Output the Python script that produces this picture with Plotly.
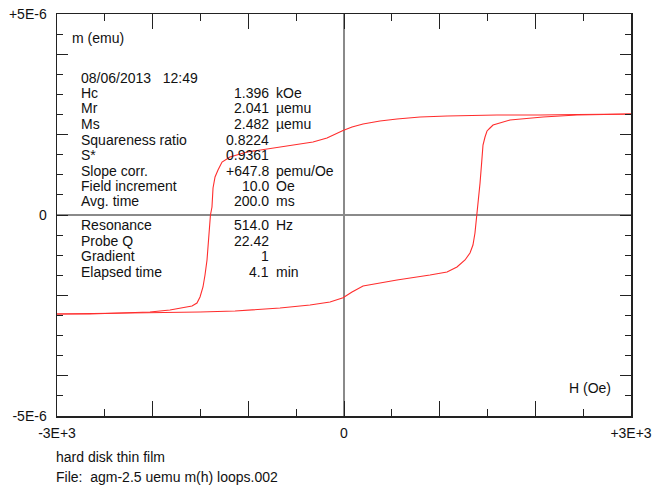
import plotly.graph_objects as go

# ---- data (field in Oe, moment in micro-emu) ----
upper_h = [3000, 2676, 2436, 2049, 1599, 1077, 795, 554, 376, 199, 84, -10, -94, -178, -324,
           -460, -669, -1014, -1192, -1275, -1317, -1348, -1369, -1380, -1396, -1411, -1432,
           -1453, -1474, -1505, -1537, -1589, -1641, -1819, -2028, -2341, -2655, -3000]
upper_m = [2.512, 2.512, 2.500, 2.488, 2.488, 2.463, 2.438, 2.388, 2.338, 2.264, 2.189, 2.100,
           2.015, 1.915, 1.816, 1.766, 1.692, 1.567, 1.443, 1.318, 1.119, 0.945, 0.672, 0.199,
           0.0, -0.448, -1.119, -1.493, -1.791, -2.040, -2.189, -2.264, -2.289, -2.363, -2.413,
           -2.438, -2.463, -2.463]
lower_h = [-3000, -2551, -2028, -1505, -1139, -669, -355, -146, -10, 84, 199, 376, 554, 899,
           1077, 1181, 1265, 1317, 1348, 1369, 1390, 1401, 1422, 1437, 1453, 1474, 1495, 1526,
           1558, 1735, 2080, 2436, 2780, 3000]
lower_m = [-2.463, -2.450, -2.438, -2.413, -2.388, -2.313, -2.239, -2.164, -2.060, -1.915,
           -1.766, -1.692, -1.617, -1.493, -1.418, -1.294, -1.119, -0.945, -0.746, -0.448, 0.0,
           0.249, 0.796, 1.244, 1.741, 1.940, 2.090, 2.164, 2.239, 2.363, 2.438, 2.488, 2.512,
           2.512]

x_tickvals = [-3000, -2000, -1000, 0, 1000, 2000, 3000]
x_ticktext = ["-3E+3", "", "", "0", "", "", "+3E+3"]
y_tickvals = [-5, -4, -2, 0, 2, 4, 5]
y_ticktext = ["-5E-6", "", "", "0", "", "", "+5E-6"]

info_labels_1 = ["Hc", "Mr", "Ms", "Squareness ratio", "S*", "Slope corr.", "Field increment", "Avg. time"]
info_values_1 = ["1.396", "2.041", "2.482", "0.8224", "0.9361", "+647.8", "10.0", "200.0"]
info_units_1 = ["kOe", "\u00b5emu", "\u00b5emu", "", "", "pemu/Oe", "Oe", "ms"]
info_labels_2 = ["Resonance", "Probe Q", "Gradient", "Elapsed time"]
info_values_2 = ["514.0", "22.42", "1", "4.1"]
info_units_2 = ["Hz", "", "", "min"]
date_text = "08/06/2013\u00a0\u00a0 12:49"
y_title = "m (emu)"
x_title = "H (Oe)"
footer = ["hard disk thin film", "File:\u00a0\u00a0agm-2.5 uemu m(h) loops.002"]

# ---- layout helpers (pixel -> paper) ----
W, H = 652, 489
L, R, T, B = 57, 21, 14, 73
PW, PH = W - L - R, H - T - B
PAD = 3  # annotation inner padding compensation


def px(x):
    return (x - L) / PW


def py(y):
    return (H - B - y) / PH


FONT = "Liberation Sans, Arial, sans-serif"
line_col = "rgb(255,45,45)"

fig = go.Figure()
fig.add_trace(go.Scatter(x=upper_h, y=upper_m, mode="lines",
                         line=dict(color=line_col, width=1.1), hoverinfo="skip"))
fig.add_trace(go.Scatter(x=lower_h, y=lower_m, mode="lines",
                         line=dict(color=line_col, width=1.1), hoverinfo="skip"))

anns = []


def txt(x, y, s, anchor="left", size=14):
    xx = x - PAD if anchor == "left" else x + PAD
    anns.append(dict(x=px(xx), y=py(y), xref="paper", yref="paper", text=s, showarrow=False,
                     xanchor=anchor, yanchor="middle",
                     font=dict(family=FONT, size=size, color="#111")))


txt(73, 38, y_title)
txt(82, 78, date_text)
row_y = 93
for lab, val, unit in zip(info_labels_1, info_values_1, info_units_1):
    txt(82, row_y, lab)
    txt(268, row_y, val, anchor="right")
    if unit:
        txt(277, row_y, unit)
    row_y += 15.5
row_y = 225
for lab, val, unit in zip(info_labels_2, info_values_2, info_units_2):
    txt(82, row_y, lab)
    txt(268, row_y, val, anchor="right")
    if unit:
        txt(277, row_y, unit)
    row_y += 15.5
txt(570, 388, x_title)
txt(57, 457, footer[0], size=14)
txt(57, 477, footer[1], size=14)

axis_common = dict(showline=True, linecolor="#222", linewidth=1.5, mirror="allticks",
                   ticks="inside", tickcolor="#222", tickwidth=1, showgrid=False,
                   zeroline=True, zerolinecolor="#8a8a8a", zerolinewidth=1.3, automargin=False,
                   tickfont=dict(family=FONT, size=14, color="#111"), fixedrange=True)

fig.update_layout(
    width=W, height=H,
    margin=dict(l=L, r=R, t=T, b=B, pad=0, autoexpand=False),
    paper_bgcolor="white", plot_bgcolor="white",
    showlegend=False,
    annotations=anns,
    xaxis=dict(range=[-3000, 3000], tickmode="array", tickvals=x_tickvals, ticktext=x_ticktext,
               ticklen=15, ticklabelstandoff=4,
               minor=dict(dtick=500, ticklen=7, ticks="inside", tickcolor="#222", showgrid=False),
               **axis_common),
    yaxis=dict(range=[-5, 5], tickmode="array", tickvals=y_tickvals, ticktext=y_ticktext,
               ticklen=11, ticklabelstandoff=6,
               minor=dict(dtick=0.5, ticklen=6, ticks="inside", tickcolor="#222", showgrid=False),
               **axis_common),
)

fig.write_html("out.html", config={"displayModeBar": False, "staticPlot": True},
               post_script="document.body.style.margin='0px';document.body.style.overflow='hidden';")
